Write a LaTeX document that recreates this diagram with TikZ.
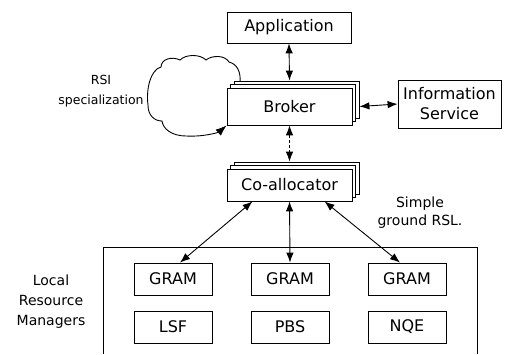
\documentclass[tikz,border=0pt]{standalone}
\usepackage{fontspec}
\setmainfont{DejaVu Sans}
\usetikzlibrary{arrows.meta,shadows,calc}
\begin{document}
\begin{tikzpicture}[x=1pt,y=-1pt,
  box/.style={draw,line width=0.8pt,fill=white,inner sep=0pt,align=center,
    font=\fontsize{16}{20}\selectfont},
  stack/.style={double copy shadow={shadow xshift=3.5pt,shadow yshift=3.5pt,fill=white,draw,line width=0.8pt}},
  arr/.style={line width=0.9pt,{Latex[length=10pt,width=7.5pt]}-{Latex[length=10pt,width=7.5pt]}},
  lbl/.style={align=center,inner sep=0pt}]
\useasboundingbox (0,0) rectangle (505,354);
% outer box (open at bottom)
\draw[line width=0.9pt] (103,354) -- (103,247) -- (477,247) -- (477,354);
\node[box,minimum width=124pt,minimum height=31pt] (app) at (289,27.5) {Application};
\node[box,stack,minimum width=125pt,minimum height=37pt] (broker) at (289.5,106.5) {Broker};
\node[box,minimum width=103pt,minimum height=48pt] (info) at (449.5,104) {Information\\Service};
\node[box,stack,minimum width=125pt,minimum height=32pt] (coal) at (289.5,185) {Co-allocator};
\foreach \n/\x/\t in {g1/173/GRAM,g2/290/GRAM,g3/407/GRAM}
  \node[box,minimum width=78pt,minimum height=32pt] (\n) at (\x,279) {\t};
\node[box,minimum width=78pt,minimum height=32pt] (lsf) at (173,327) {LSF};
\node[box,minimum width=78pt,minimum height=32pt] (pbs) at (290,327) {PBS};
\node[box,minimum width=78pt,minimum height=32pt] (nqe) at (407,327) {NQE};
% labels
\node[lbl,font=\fontsize{12.5}{20}\selectfont] (rsi) at (101,91) {RSI\\specialization};
\node[lbl,font=\fontsize{14}{18}\selectfont] (sgr) at (420,213) {Simple\\ground RSL.};
\node[lbl,font=\fontsize{14}{20}\selectfont] (lrm) at (51,302) {Local\\Resource\\Managers};
% connectors
\draw[arr] (app.south) -- ([yshift=7pt]broker.north);
\draw[arr] ([xshift=7pt]broker.east) -- (info.west);
\draw[arr,dashed,dash pattern=on 3pt off 2pt] (broker.south) -- ([yshift=7pt]coal.north);
\draw[arr] ([xshift=-37pt]coal.south) -- ([xshift=7pt]g1.north);
\draw[arr] (coal.south) -- (g2.north);
\draw[arr] ([xshift=35pt]coal.south) -- ([xshift=-7pt]g3.north);
% cloud
\draw[line width=0.9pt,-{Latex[length=11pt,width=8pt]}]
  (240,82) .. controls (241,72) and (237,64) .. (229,62)
  .. controls (225,55) and (212,55) .. (206,60)
  .. controls (200,54) and (186,54) .. (180,60)
  .. controls (172,56) and (161,59) .. (161,67)
  .. controls (150,70) and (146,90) .. (148,105)
  .. controls (148,115) and (154,121) .. (162,121)
  .. controls (163,129) and (172,136) .. (186,136)
  .. controls (205,137) and (219,132) .. (broker.south west);
\end{tikzpicture}
\end{document}
